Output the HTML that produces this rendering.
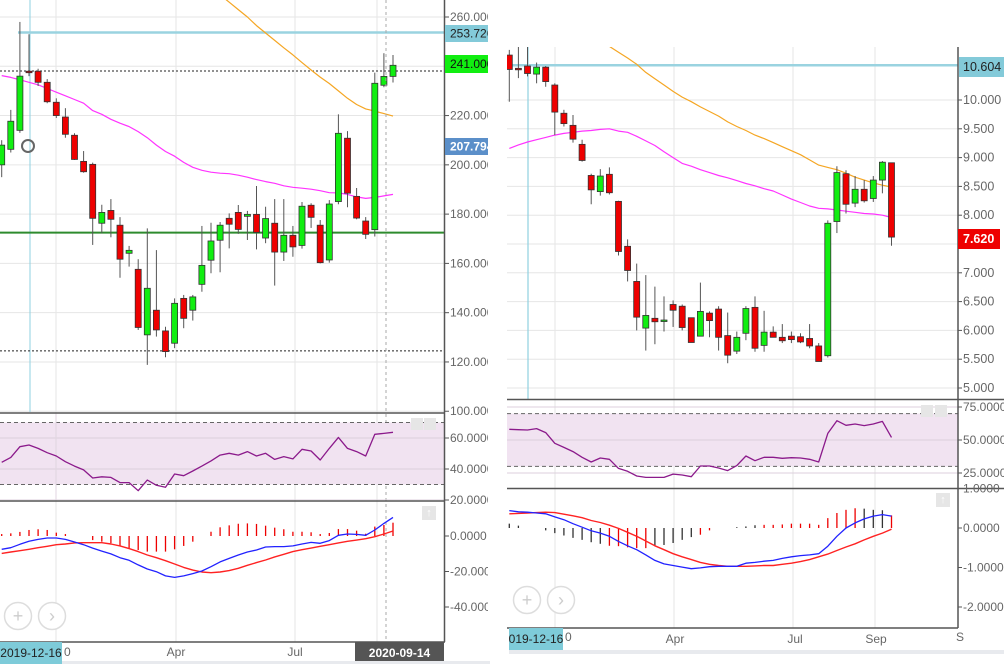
<!DOCTYPE html>
<html><head><meta charset="utf-8">
<style>
html,body{margin:0;padding:0;background:#fff;}
svg{display:block;font-family:"Liberation Sans",sans-serif;}
</style></head>
<body>
<svg id="chart" width="1004" height="664" viewBox="0 0 1004 664" xmlns="http://www.w3.org/2000/svg">
<defs>
<clipPath id="cLM"><rect x="0" y="0" width="444" height="412"/></clipPath>
<clipPath id="cLR"><rect x="0" y="414" width="444" height="86"/></clipPath>
<clipPath id="cLD"><rect x="0" y="502" width="444" height="140"/></clipPath>
<clipPath id="cRM"><rect x="507" y="47" width="451" height="352"/></clipPath>
<clipPath id="cRR"><rect x="507" y="400" width="451" height="88"/></clipPath>
<clipPath id="cRD"><rect x="507" y="489" width="451" height="139"/></clipPath>
</defs>
</svg>
<script>
// ---------- LEFT CHART DATA ----------
const leftOpen=[200,206.3,214,238,238,233.5,225.4,219.4,212,201.4,200.2,176.3,181.5,175.5,164.1,157.6,131,141,132.6,127.6,145.8,141,151.5,161.3,169.4,178.3,180.7,179.1,179.9,170.3,176.3,164.6,171.4,167.3,183.6,175.5,161.4,185.1,210.8,187.2,177.2,173.7,232.3,235.9];
const leftClose=[208,217.7,236,237.5,233.5,225.6,220,212.4,202.2,197.2,178.3,180.7,177.9,161.7,165.3,134,149.9,133,124.2,143.8,137.7,146.4,159.2,169.1,175.5,175.9,173.8,179.9,172.6,178.2,164.6,171.4,166.7,183.2,178.7,160.3,184.1,212.8,188.5,178.4,171.8,233.1,235.9,240.4];
const leftHigh=[210,222.3,258,253,239,234.8,227,223,212.8,205.6,200.9,183.8,186.1,178.8,167.1,161.7,174.2,165.4,134.3,145.8,147.2,147.2,175.2,176.5,176.8,180.3,183.7,181.3,191.4,183,186.1,186.1,175.2,184.9,184.4,177.6,185.7,220.5,213.7,190.6,178.8,237.4,245.3,244.6];
const leftLow=[195,205,213,236,232,225,219,211,202,196.8,167.5,172.2,170.6,154.2,158.7,133,118.8,130.3,121.9,125.6,133.7,136.8,148.5,156,156.4,166.1,172,169.5,165.7,168.2,151,161,162.7,166,174.4,160,160.3,184,182.8,177.9,169.9,170.9,231.5,233.4];
const leftMaSlowStart=24;
const leftMaSlow=[269,266,263,260,256.5,253.5,250.5,247.5,244.6,241.5,238.5,235.6,233,230,227,224.5,222.7,221.8,220.8,219.8];
const leftMaFast=[236.2,235.5,234.5,233.5,232.5,231,229.5,228,226.5,225,222,220.5,218.5,216.9,215.5,213.5,211,208,205.4,203.5,201,199,197.8,197,196.6,196.4,195.8,195,194,193.2,192.5,191.5,190.9,190.5,190.1,189.5,188.7,188.6,188,187,186.4,186.8,187.4,188];
const leftRsi=[44.3,47.5,54.4,55.5,53.3,50.5,48.4,44.7,41.9,39.4,34.2,35,34.6,31.2,31.2,26,32.9,29.5,28.2,36.8,35.7,38.7,41.9,45.2,49,50.1,49,51.2,48.4,50.1,46.2,48,46.5,52.7,51.6,45.8,53.3,60.4,53.3,51.2,48.4,62.4,63,63.7];
const leftHist=[1.1,1.5,2.3,3.4,3.8,3.4,1.9,1.1,0,0,-2.3,-3.2,-4.1,-5.6,-6.9,-7.9,-8.8,-8.8,-8.8,-7.5,-5.6,-3.2,0,2.4,4.9,6,6.9,7.1,6.8,5.8,4.7,3.8,2.4,2.4,2.1,1.1,1.7,3.9,3.9,3,1.3,5.3,6.2,7.5];
const leftMacd=[-7.5,-6.6,-4.7,-3,-1.9,-1.1,-1.1,-1.9,-3.4,-4.9,-6.8,-8.5,-10.1,-12.2,-13.7,-16.3,-18.6,-20.1,-22.5,-23.3,-22.5,-21.2,-19.7,-17.3,-14.6,-12.6,-10.7,-9,-7.9,-6.2,-6,-6,-5.6,-4.5,-3.6,-4.1,-2.6,0.4,1.1,0.9,0.4,3.4,7.1,10.5];
const leftSignal=[-9.8,-9,-8.3,-7.5,-6.6,-5.8,-4.9,-4.5,-3.9,-3.8,-3.8,-3.8,-4.5,-5.6,-7.1,-8.8,-10.7,-12.2,-13.9,-15.8,-17.7,-19.2,-20.3,-20.7,-20.3,-19.5,-18.2,-16.5,-15,-13.5,-11.8,-10.3,-8.8,-7.7,-6.8,-5.8,-4.9,-3.9,-3,-2.3,-1.5,-0.4,1.1,2.8];
const leftPriceTicks=[260,240,220,200,180,160,140,120,100];
const leftRsiTicks=[60,40,20];
const leftMacdTicks=[0,-20,-40];
// ---------- RIGHT CHART DATA ----------
const rightOpen=[10.78,10.55,10.59,10.45,10.57,10.26,9.77,9.56,9.23,8.69,8.41,8.71,8.24,7.46,6.85,6.04,6.21,6.17,6.45,6.42,6.22,5.9,6.3,6.37,5.91,5.64,5.95,6.4,5.74,5.97,5.88,5.9,5.89,5.86,5.73,5.56,7.89,8.72,8.21,8.45,8.29,8.61,8.91];
const rightClose=[10.53,10.54,10.46,10.57,10.32,9.79,9.59,9.32,8.95,8.44,8.68,8.39,7.37,7.04,6.23,6.26,6.15,6.18,6.35,6.05,5.79,6.33,6.17,5.88,5.57,5.88,6.38,5.69,5.97,5.88,5.82,5.84,5.8,5.73,5.46,7.86,8.74,8.19,8.45,8.25,8.61,8.92,7.62];
const rightHigh=[10.87,10.93,10.93,10.65,10.59,10.29,9.83,9.74,9.31,8.72,8.8,8.83,8.25,7.58,7.16,6.96,6.76,6.59,6.52,6.45,6.22,6.83,6.33,6.42,6.31,5.98,6.42,6.59,6.34,6.07,6.11,5.98,5.95,6.11,5.78,7.91,8.85,8.78,8.68,8.61,8.68,8.94,8.91];
const rightLow=[9.97,10.38,10.41,10.29,10.23,9.39,9.54,9.26,8.93,8.19,8.34,8.36,7.3,6.85,6.0,5.65,5.76,5.98,6.06,6.0,5.79,5.9,5.88,5.65,5.43,5.59,5.83,5.63,5.63,5.88,5.78,5.78,5.78,5.69,5.46,5.53,7.69,8.03,8.14,8.22,8.23,8.38,7.47];
const rightMaSlowStart=10;
const rightMaSlow=[11.03,10.93,10.83,10.73,10.62,10.48,10.37,10.26,10.15,10.05,9.97,9.88,9.8,9.72,9.62,9.54,9.47,9.39,9.33,9.26,9.19,9.12,9.05,8.96,8.87,8.83,8.79,8.73,8.66,8.61,8.56,8.52,8.49];
const rightMaFast=[9.16,9.22,9.27,9.31,9.35,9.39,9.42,9.44,9.46,9.47,9.49,9.5,9.46,9.44,9.37,9.29,9.21,9.1,9.0,8.9,8.85,8.79,8.74,8.69,8.65,8.6,8.55,8.51,8.46,8.42,8.35,8.28,8.22,8.16,8.12,8.11,8.09,8.07,8.05,8.03,8.02,8.0,7.96];
const rightRsi=[58.1,57.8,57.6,58.6,55.6,47.5,44.4,41.2,36.9,33.3,36.4,35.4,28.5,26.3,22.7,21.7,21.7,21.7,24.2,23.5,22.2,30.3,30.3,28.8,26.8,30.6,37.9,34.3,36.9,36.9,36.1,36.6,36.4,35.4,33.3,55,64.6,61.1,62.1,60.9,62.1,64.1,52];
const rightHist=[0.11,0.06,0,0,-0.06,-0.13,-0.19,-0.25,-0.3,-0.36,-0.4,-0.45,-0.46,-0.49,-0.51,-0.51,-0.46,-0.43,-0.38,-0.3,-0.23,-0.17,-0.06,0,0,0.02,0.04,0.07,0.08,0.08,0.09,0.11,0.11,0.11,0.08,0.25,0.38,0.46,0.5,0.49,0.46,0.45,0.32];
const rightHistRed=[0,0,0,0,0,0,0,0,0,0,0,1,1,1,1,1,0,0,0,0,0,1,1,0,0,0,0,0,1,1,1,1,1,1,1,1,1,1,1,0,0,0,1];
const rightMacd=[0.44,0.41,0.4,0.38,0.36,0.28,0.21,0.11,0.02,-0.07,-0.13,-0.21,-0.34,-0.45,-0.55,-0.68,-0.82,-0.91,-0.95,-0.99,-1.03,-1.01,-0.98,-0.97,-0.97,-0.97,-0.89,-0.87,-0.84,-0.82,-0.77,-0.73,-0.7,-0.68,-0.65,-0.46,-0.21,0,0.13,0.23,0.3,0.34,0.3];
const rightSignal=[0.36,0.37,0.38,0.39,0.4,0.39,0.35,0.31,0.26,0.19,0.14,0.07,-0.01,-0.11,-0.21,-0.33,-0.45,-0.55,-0.65,-0.73,-0.8,-0.87,-0.92,-0.95,-0.97,-0.97,-0.97,-0.96,-0.95,-0.95,-0.92,-0.89,-0.85,-0.8,-0.73,-0.66,-0.57,-0.48,-0.4,-0.3,-0.21,-0.13,-0.03];
const rightPriceTicks=[10,9.5,9,8.5,8,7.5,7,6.5,6,5.5,5];
const rightRsiTicks=[75,50,25];
const rightMacdTicks=[1,0,-1,-2];

const NS='http://www.w3.org/2000/svg';
const svg=document.getElementById('chart');
function mk(tag,attrs,parent,name,inter){
  const e=document.createElementNS(NS,tag);
  for(const k in attrs)e.setAttribute(k,attrs[k]);
  
  
  (parent||svg).appendChild(e);return e;
}
function grp(name,clip){const g=mk('g',clip?{'clip-path':'url(#'+clip+')'}:{},svg,name,false);return g;}

// scales
const xL=i=>1.7+9.1*i, xR=i=>509.3+9.1*i;
const yLP=p=>17+(260-p)*2.464, yLR=v=>438+(60-v)*1.55, yLD=v=>536-v*1.775;
const yRP=p=>100+(10-p)*57.6, yRR=v=>440+(50-v)*1.32, yRD=v=>528-v*39.5;

function hline(g,x1,x2,y,stroke,w,dash,name){const a={x1:x1,x2:x2,y1:y,y2:y,stroke:stroke,'stroke-width':w};if(dash)a['stroke-dasharray']=dash;return mk('line',a,g,name,false);}
function vline(g,x,y1,y2,stroke,w,dash,name){const a={x1:x,x2:x,y1:y1,y2:y2,stroke:stroke,'stroke-width':w};if(dash)a['stroke-dasharray']=dash;return mk('line',a,g,name,false);}
function txt(g,x,y,s,fill,size,name,anchor,weight){const t=mk('text',{x:x,y:y,fill:fill,'font-size':size,'text-anchor':anchor||'start','font-weight':weight||'normal','dominant-baseline':'central'},g,name,false);t.textContent=s;return t;}
function poly(g,xs,vals,start,xf,yf,color,w,name){
  let pts=[];vals.forEach((v,k)=>pts.push(xf(start+k).toFixed(1)+','+yf(v).toFixed(1)));
  return mk('polyline',{points:pts.join(' '),fill:'none',stroke:color,'stroke-width':w,'stroke-linejoin':'round'},g,name,false);
}
function candles(g,o,c,h,l,xf,yf,prefix){
  for(let i=0;i<o.length;i++){
    const up=c[i]>=o[i];
    const w=mk('line',{x1:xf(i),x2:xf(i),y1:yf(h[i]),y2:yf(l[i]),stroke:'#555','stroke-width':1},g,prefix+'-wick',false);
    const top=yf(Math.max(o[i],c[i])),bot=yf(Math.min(o[i],c[i]));
    mk('rect',{x:xf(i)-3,y:top,width:6,height:Math.max(1.5,bot-top),fill:up?'#11ee11':'#ee0000',stroke:'#333','stroke-width':0.8},g,prefix+'-candle',true);
  }
}
function hist(g,vals,xf,yf,colorFn,name){
  vals.forEach((v,i)=>{ if(v===0)return;
    mk('line',{x1:xf(i),x2:xf(i),y1:yf(0),y2:yf(v),stroke:colorFn(i),'stroke-width':1.3},g,name,false);});
}
function btn(x,y,sym,name){
  mk('circle',{cx:x,cy:y,r:13.5,fill:'#fff',stroke:'#ddd','stroke-width':1.5},svg,name,true);
  txt(svg,x,y,sym,'#ccc',18,name+'-icon','middle');
}

// ====== LEFT CHART ======
const lgrid=grp('left-grid');
[56,176,295,377].forEach(x=>vline(lgrid,x,0,642,'#e6e6e6',1,null,'left-vertical-grid'));
leftPriceTicks.forEach(p=>hline(lgrid,0,444,yLP(p),'#e6e6e6',1,null,'left-price-grid'));
const lm=grp('left-main-panel','cLM');
vline(lm,30,0,412,'#8fd0e0',1,null,'left-crosshair-vertical');
hline(lm,18,444,yLP(253.726),'#9ad3e0',2.5,null,'left-resistance-line');
hline(lm,0,444,yLP(238.1),'#222',1,'2,2','left-dotted-level-top');
hline(lm,0,444,yLP(172.5),'#2e8b2e',2,null,'left-support-line');
hline(lm,0,444,yLP(124.5),'#222',1,'2,2','left-dotted-level-bottom');
poly(lm,null,leftMaSlow,leftMaSlowStart,xL,yLP,'#f5a623',1.2,'left-ma-slow');
poly(lm,null,leftMaFast,0,xL,yLP,'#ff33ff',1.2,'left-ma-fast');
candles(lm,leftOpen,leftClose,leftHigh,leftLow,xL,yLP,'left');
mk('circle',{cx:28,cy:146,r:6,fill:'none',stroke:'#666','stroke-width':2},lm,'left-marker-circle',false);
vline(svg,386,0,642,'#aaa',1,'3,3','left-cursor-dashed-line');
// RSI
const lr=grp('left-rsi-panel','cLR');
mk('rect',{x:0,y:yLR(70),width:444,height:yLR(30)-yLR(70),fill:'#f1e3f1'},lr,'left-rsi-band',false);
leftRsiTicks.forEach(v=>hline(lr,0,444,yLR(v),'#dccfdc',1,null,'left-rsi-grid'));
hline(lr,0,444,yLR(70),'#666',1,'4,3','left-rsi-70');
hline(lr,0,444,yLR(30),'#666',1,'4,3','left-rsi-30');
vline(lr,56,414,500,'#e0d6e0',1,null,'left-rsi-vgrid');
poly(lr,null,leftRsi,0,xL,yLR,'#8b1a8b',1.3,'left-rsi-line');
// MACD
const ld=grp('left-macd-panel','cLD');
hist(ld,leftHist,xL,yLD,i=>'#ee0000','left-macd-histogram');
poly(ld,null,leftSignal,0,xL,yLD,'#ff2222',1.4,'left-macd-signal');
poly(ld,null,leftMacd,0,xL,yLD,'#2222ff',1.3,'left-macd-line');
// borders
hline(svg,0,445,413,'#555',1.5,null,'left-rsi-top-border');
hline(svg,0,445,501,'#555',1.5,null,'left-macd-top-border');
hline(svg,0,445,642,'#555',1.5,null,'left-bottom-border');
vline(svg,444.5,0,642,'#555',1.5,null,'left-y-axis-line');
// axis labels
const lax=grp('left-y-axis-labels');
leftPriceTicks.forEach(p=>{hline(lax,445,449,yLP(p),'#555',1,null,'left-tick');txt(lax,450,yLP(p),p.toFixed(3),'#666',12,'left-price-label');});
leftRsiTicks.forEach(v=>{hline(lax,445,449,yLR(v),'#555',1,null,'left-tick');txt(lax,450,yLR(v),v.toFixed(4),'#666',12,'left-rsi-label');});
leftMacdTicks.forEach(v=>{hline(lax,445,449,yLD(v),'#555',1,null,'left-tick');txt(lax,450,yLD(v),v.toFixed(4),'#666',12,'left-macd-label');});
mk('rect',{x:445,y:25,width:44,height:17,fill:'#83cad9'},svg,'left-resistance-price-tag',false);
txt(svg,450,33.5,'253.726','#222',12,'left-resistance-price-text');
mk('rect',{x:445,y:55,width:44,height:18,fill:'#11ee11'},svg,'left-last-price-tag',false);
txt(svg,450,64,'241.000','#111',12,'left-last-price-text');
mk('rect',{x:445,y:138,width:44,height:17,fill:'#5b8fc9'},svg,'left-ma-price-tag',false);
txt(svg,450,146.5,'207.794','#fff',12,'left-ma-price-text',null,'bold');
mk('rect',{x:488,y:0,width:19,height:664,fill:'#fff'},svg,'gap',false);
mk('rect',{x:411,y:418,width:12,height:12,fill:'#e6e6e6'},svg,'left-rsi-up-button',true);
mk('rect',{x:424,y:418,width:12,height:12,fill:'#e6e6e6'},svg,'left-rsi-down-button',true);
mk('rect',{x:422,y:506,width:14,height:14,fill:'#e6e6e6'},svg,'left-macd-up-button',true);
txt(svg,429,513,'↑','#fff',11,'left-macd-up-icon','middle','bold');
btn(18,616,'+','left-zoom-in-button');btn(52,616,'›','left-scroll-button');
// x labels
const lxa=grp('left-x-axis');
txt(lxa,176,652,'Apr','#666',12,'left-x-label-apr','middle');
txt(lxa,295,652,'Jul','#666',12,'left-x-label-jul','middle');
txt(lxa,64,652,'0','#666',12,'left-x-label-jan','start');
mk('rect',{x:0,y:642,width:62,height:22,fill:'#7ecbd9'},svg,'left-start-date-tag',false);
txt(svg,31,653,'2019-12-16','#222',12,'left-start-date-text','middle');
mk('rect',{x:355,y:642,width:89,height:22,fill:'#555'},svg,'left-cursor-date-tag',false);
txt(svg,399.5,653,'2020-09-14','#fff',12,'left-cursor-date-text','middle','bold');
mk('rect',{x:62,y:661,width:428,height:3,fill:'#e8eaee'},svg,'left-scrollbar',true);

// ====== RIGHT CHART ======
const rgrid=grp('right-grid');
[555,674,793,875].forEach(x=>vline(rgrid,x,47,628,'#e6e6e6',1,null,'right-vertical-grid'));
rightPriceTicks.forEach(p=>hline(rgrid,507,958,yRP(p),'#e6e6e6',1,null,'right-price-grid'));
const rm=grp('right-main-panel','cRM');
vline(rm,528,47,399,'#8fd0e0',1.2,null,'right-crosshair-vertical');
hline(rm,507,958,yRP(10.604),'#9ad3e0',2.5,null,'right-resistance-line');
poly(rm,null,rightMaSlow,rightMaSlowStart,xR,yRP,'#f5a623',1.2,'right-ma-slow');
poly(rm,null,rightMaFast,0,xR,yRP,'#ff33ff',1.2,'right-ma-fast');
candles(rm,rightOpen,rightClose,rightHigh,rightLow,xR,yRP,'right');
const rr=grp('right-rsi-panel','cRR');
mk('rect',{x:507,y:yRR(70),width:451,height:yRR(30)-yRR(70),fill:'#f1e3f1'},rr,'right-rsi-band',false);
rightRsiTicks.forEach(v=>hline(rr,507,958,yRR(v),'#dccfdc',1,null,'right-rsi-grid'));
hline(rr,507,958,yRR(70),'#666',1,'4,3','right-rsi-70');
hline(rr,507,958,yRR(30),'#666',1,'4,3','right-rsi-30');
poly(rr,null,rightRsi,0,xR,yRR,'#8b1a8b',1.3,'right-rsi-line');
const rd=grp('right-macd-panel','cRD');
hist(rd,rightHist,xR,yRD,i=>rightHistRed[i]?'#ee0000':'#333','right-macd-histogram');
poly(rd,null,rightSignal,0,xR,yRD,'#ff2222',1.4,'right-macd-signal');
poly(rd,null,rightMacd,0,xR,yRD,'#2222ff',1.3,'right-macd-line');
hline(svg,507,1004,399.5,'#555',1.5,null,'right-rsi-top-border');
hline(svg,507,1004,488.5,'#555',1.5,null,'right-macd-top-border');
hline(svg,507,958,628,'#555',1.5,null,'right-bottom-border');
vline(svg,958,47,628,'#555',1.5,null,'right-y-axis-line');
const rax=grp('right-y-axis-labels');
rightPriceTicks.forEach(p=>{hline(rax,958,962,yRP(p),'#555',1,null,'right-tick');txt(rax,963,yRP(p),p.toFixed(3),'#666',12.5,'right-price-label');});
rightRsiTicks.forEach(v=>{hline(rax,958,962,yRR(v),'#555',1,null,'right-tick');txt(rax,963,yRR(v),v.toFixed(4),'#666',12,'right-rsi-label');});
rightMacdTicks.forEach(v=>{hline(rax,958,962,yRD(v),'#555',1,null,'right-tick');txt(rax,963,yRD(v),v.toFixed(4),'#666',12,'right-macd-label');});
mk('rect',{x:959,y:57,width:45,height:20,fill:'#83cad9'},svg,'right-resistance-price-tag',false);
txt(svg,963,67,'10.604','#222',12.5,'right-resistance-price-text');
mk('rect',{x:958,y:229,width:42,height:20,fill:'#ee0000'},svg,'right-last-price-tag',false);
txt(svg,963,239,'7.620','#fff',12.5,'right-last-price-text',null,'bold');
mk('rect',{x:921,y:405,width:12,height:12,fill:'#e6e6e6'},svg,'right-rsi-up-button',true);
mk('rect',{x:935,y:405,width:12,height:12,fill:'#e6e6e6'},svg,'right-rsi-down-button',true);
mk('rect',{x:936,y:493,width:14,height:14,fill:'#e6e6e6'},svg,'right-macd-up-button',true);
txt(svg,943,500,'↑','#fff',11,'right-macd-up-icon','middle','bold');
btn(527,600,'+','right-zoom-in-button');btn(561,600,'›','right-scroll-button');
const rxa=grp('right-x-axis');
txt(rxa,675,639,'Apr','#666',12,'right-x-label-apr','middle');
txt(rxa,795,639,'Jul','#666',12,'right-x-label-jul','middle');
txt(rxa,876,639,'Sep','#666',12,'right-x-label-sep','middle');
txt(rxa,565,637,'0','#666',12,'right-x-label-jan','start');
txt(rxa,956,637,'S','#666',12,'right-x-label-next','start');
mk('rect',{x:509,y:628,width:54,height:22,fill:'#7ecbd9'},svg,'right-start-date-tag',false);
txt(svg,536,639,'019-12-16','#222',12,'right-start-date-text','middle');
mk('rect',{x:509,y:650,width:495,height:4,fill:'#e8eaee'},svg,'right-scrollbar',true);
</script>
</body></html>
